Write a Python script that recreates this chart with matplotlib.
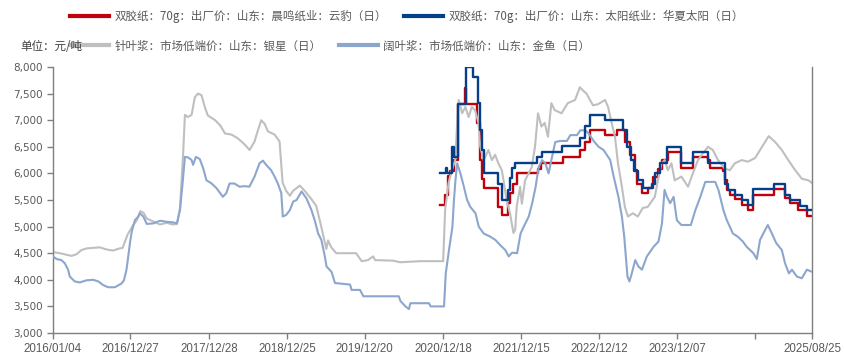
import matplotlib
matplotlib.use("Agg")
import matplotlib.pyplot as plt
from matplotlib.ticker import FuncFormatter
from matplotlib.lines import Line2D
import pandas as pd

plt.rcParams['font.family'] = ['Noto Sans CJK SC', 'DejaVu Sans']

# 针叶浆：市场低端价：山东：银星（日）
nb_dates = ['2016-01-04', '2016-02-05', '2016-03-07', '2016-03-30', '2016-04-22', '2016-05-15',
            '2016-06-08', '2016-07-08', '2016-08-08', '2016-09-08', '2016-10-08', '2016-11-08',
            '2016-11-22', '2016-12-01', '2016-12-15', '2017-01-10', '2017-01-27', '2017-02-12',
            '2017-02-27', '2017-03-14', '2017-04-12', '2017-05-14', '2017-06-14', '2017-07-13',
            '2017-08-01', '2017-08-15', '2017-08-22', '2017-08-30', '2017-09-07', '2017-09-20',
            '2017-10-08', '2017-10-23', '2017-11-06', '2017-11-23', '2017-12-08', '2017-12-22',
            '2018-01-25', '2018-02-18', '2018-03-12', '2018-04-11', '2018-05-10', '2018-06-12',
            '2018-07-04', '2018-07-27', '2018-08-10', '2018-08-27', '2018-09-12', '2018-09-27',
            '2018-10-28', '2018-11-20', '2018-12-04', '2018-12-21', '2019-01-07', '2019-01-21',
            '2019-02-22', '2019-03-17', '2019-04-16', '2019-05-09', '2019-06-02', '2019-06-25',
            '2019-07-03', '2019-07-18', '2019-08-10', '2019-11-10', '2019-12-06', '2020-01-04',
            '2020-01-28', '2020-02-06', '2020-04-29', '2020-06-01', '2020-09-02', '2020-12-18',
            '2020-12-27', '2021-01-12', '2021-01-27', '2021-02-12', '2021-02-20', '2021-02-28',
            '2021-03-16', '2021-03-31', '2021-04-15', '2021-04-30', '2021-05-16', '2021-05-31',
            '2021-06-08', '2021-06-24', '2021-07-16', '2021-08-01', '2021-08-16', '2021-08-31',
            '2021-09-16', '2021-09-24', '2021-10-08', '2021-10-24', '2021-11-09', '2021-11-17',
            '2021-11-24', '2021-12-10', '2021-12-18', '2022-01-02', '2022-02-02', '2022-02-17',
            '2022-03-03', '2022-03-19', '2022-04-03', '2022-04-18', '2022-05-04', '2022-05-19',
            '2022-06-20', '2022-07-19', '2022-08-22', '2022-09-13', '2022-09-27', '2022-10-14',
            '2022-10-30', '2022-11-13', '2022-12-06', '2023-01-08', '2023-01-22', '2023-02-08',
            '2023-02-23', '2023-03-09', '2023-03-27', '2023-04-10', '2023-04-24', '2023-05-17',
            '2023-06-09', '2023-07-02', '2023-07-25', '2023-08-27', '2023-09-10', '2023-09-27',
            '2023-10-12', '2023-10-26', '2023-11-12', '2023-11-27', '2023-12-28', '2024-01-28',
            '2024-02-19', '2024-03-14', '2024-04-06', '2024-04-30', '2024-05-22', '2024-06-15',
            '2024-07-16', '2024-08-09', '2024-09-01', '2024-10-03', '2024-11-01', '2024-12-04',
            '2025-01-05', '2025-02-05', '2025-03-07', '2025-04-07', '2025-05-07', '2025-06-08',
            '2025-07-09', '2025-08-08', '2025-08-25']
nb_values = [4520, 4500, 4470, 4450, 4480, 4560,
             4590, 4600, 4610, 4570, 4550, 4590,
             4600, 4700, 4850, 5030, 5120, 5290,
             5260, 5150, 5100, 5040, 5070, 5040,
             5050, 5340, 5840, 6400, 7100, 7060,
             7100, 7430, 7500, 7470, 7250, 7090,
             7000, 6900, 6750, 6730, 6660, 6540,
             6440, 6600, 6790, 7000, 6930, 6790,
             6730, 6600, 5830, 5670, 5580, 5670,
             5770, 5670, 5520, 5390, 4990, 4580,
             4740, 4610, 4500, 4500, 4350, 4370,
             4440, 4370, 4360, 4330, 4350, 4350,
             5310, 5820, 6060, 6250, 6880, 7380,
             7130, 7250, 7060, 7250, 7180, 6940,
             6500, 6250, 6440, 6250, 6350, 6190,
             6060, 5870, 5500, 5250, 4880, 4940,
             5370, 5750, 5430, 5870, 6120, 6500,
             7130, 6880, 6950, 6690, 7320, 7190,
             7130, 7320, 7380, 7620, 7560, 7500,
             7380, 7280, 7300, 7380, 7250, 6940,
             6690, 6190, 5750, 5370, 5190, 5250,
             5190, 5350, 5370, 5560, 5870, 6190,
             6250, 6060, 6190, 5870, 5940, 5750,
             6000, 6250, 6380, 6500, 6440, 6250,
             6090, 6060, 6190, 6250, 6220, 6290,
             6500, 6700, 6590, 6440, 6250, 6060,
             5900, 5870, 5820]

# 阔叶浆：市场低端价：山东：金鱼（日）
hw_dates = ['2016-01-04', '2016-01-21', '2016-02-12', '2016-02-28', '2016-03-14', '2016-03-22',
            '2016-04-14', '2016-05-07', '2016-06-07', '2016-07-08', '2016-08-01', '2016-08-24',
            '2016-09-16', '2016-10-17', '2016-10-26', '2016-11-17', '2016-11-28', '2016-12-10',
            '2016-12-18', '2016-12-26', '2017-01-03', '2017-01-18', '2017-02-03', '2017-02-10',
            '2017-02-26', '2017-03-14', '2017-04-13', '2017-05-15', '2017-06-14', '2017-07-14',
            '2017-08-01', '2017-08-15', '2017-08-27', '2017-09-07', '2017-09-22', '2017-10-08',
            '2017-10-15', '2017-10-28', '2017-11-15', '2017-12-01', '2017-12-16', '2018-01-09',
            '2018-02-01', '2018-03-02', '2018-03-18', '2018-04-02', '2018-04-25', '2018-05-18',
            '2018-06-10', '2018-07-03', '2018-07-27', '2018-08-19', '2018-09-04', '2018-09-19',
            '2018-10-12', '2018-10-28', '2018-11-12', '2018-11-28', '2018-12-05', '2018-12-21',
            '2019-01-07', '2019-01-22', '2019-02-07', '2019-03-02', '2019-03-25', '2019-04-17',
            '2019-05-02', '2019-05-18', '2019-06-02', '2019-06-18', '2019-06-26', '2019-07-19',
            '2019-08-04', '2019-10-13', '2019-10-20', '2019-11-28', '2019-12-14', '2020-05-26',
            '2020-06-03', '2020-06-26', '2020-07-12', '2020-07-19', '2020-10-13', '2020-10-21',
            '2020-12-22', '2020-12-30', '2021-01-14', '2021-01-30', '2021-02-06', '2021-02-13',
            '2021-02-21', '2021-03-08', '2021-03-24', '2021-04-08', '2021-04-23', '2021-05-17',
            '2021-06-01', '2021-06-24', '2021-07-25', '2021-08-17', '2021-09-09', '2021-10-02',
            '2021-10-18', '2021-11-03', '2021-11-26', '2021-12-12', '2021-12-27', '2022-01-19',
            '2022-02-04', '2022-02-20', '2022-03-06', '2022-03-22', '2022-04-06', '2022-04-21',
            '2022-05-07', '2022-05-22', '2022-06-14', '2022-07-15', '2022-07-31', '2022-08-31',
            '2022-09-15', '2022-10-09', '2022-10-24', '2022-11-16', '2022-12-09', '2023-01-01',
            '2023-02-01', '2023-02-17', '2023-03-11', '2023-03-27', '2023-04-07', '2023-04-16',
            '2023-04-22', '2023-05-01', '2023-05-12', '2023-05-28', '2023-06-12', '2023-06-28',
            '2023-07-21', '2023-08-21', '2023-09-13', '2023-09-29', '2023-10-11', '2023-10-22',
            '2023-11-06', '2023-11-22', '2023-12-07', '2023-12-28', '2024-01-20', '2024-02-10',
            '2024-03-02', '2024-03-25', '2024-04-17', '2024-05-10', '2024-06-02', '2024-06-17',
            '2024-07-10', '2024-07-26', '2024-08-23', '2024-09-15', '2024-10-08', '2024-10-26',
            '2024-11-26', '2024-12-12', '2024-12-27', '2025-01-11', '2025-02-01', '2025-02-20',
            '2025-03-12', '2025-04-07', '2025-04-22', '2025-05-10', '2025-05-24', '2025-06-16',
            '2025-07-09', '2025-08-01', '2025-08-25']
hw_values = [4440, 4390, 4370, 4310, 4190, 4060,
             3970, 3950, 3990, 4000, 3970, 3900,
             3860, 3860, 3880, 3930, 3990, 4190,
             4440, 4690, 4900, 5120, 5190, 5250,
             5190, 5050, 5060, 5110, 5090, 5080,
             5060, 5310, 5810, 6310, 6300, 6250,
             6160, 6310, 6270, 6090, 5870, 5810,
             5720, 5560, 5630, 5810, 5810, 5750,
             5760, 5750, 5940, 6190, 6240, 6160,
             6060, 5940, 5810, 5630, 5190, 5220,
             5310, 5470, 5500, 5660, 5530, 5310,
             5120, 4870, 4750, 4440, 4250, 4150,
             3940, 3910, 3810, 3810, 3690, 3690,
             3600, 3500, 3450, 3560, 3560, 3500,
             3500, 4120, 4560, 5000, 5500, 5870,
             6190, 6000, 5750, 5500, 5370, 5250,
             5000, 4870, 4810, 4750, 4650, 4560,
             4440, 4510, 4500, 4870, 5000, 5190,
             5440, 5750, 6120, 6250, 6190, 6000,
             6310, 6590, 6610, 6610, 6720, 6720,
             6810, 6810, 6750, 6610, 6500, 6440,
             6250, 5940, 5560, 5190, 4810, 4370,
             4060, 3970, 4120, 4370, 4250, 4190,
             4440, 4620, 4720, 5060, 5690, 5560,
             5440, 5560, 5120, 5030, 5030, 5030,
             5310, 5560, 5840, 5840, 5840, 5690,
             5310, 5120, 4870, 4810, 4720, 4620,
             4500, 4390, 4750, 4870, 5030, 4870,
             4690, 4560, 4310, 4120, 4190, 4060,
             4030, 4190, 4150]

# 双胶纸：70g：出厂价：山东：晨鸣纸业：云豹（日）  (price change dates)
cm_dates = ['2020-12-04', '2020-12-28', '2021-01-08', '2021-01-20', '2021-02-05', '2021-02-24',
            '2021-03-29', '2021-04-02', '2021-05-26', '2021-06-08', '2021-06-16', '2021-06-24',
            '2021-08-31', '2021-09-18', '2021-10-13', '2021-10-24', '2021-11-09', '2021-11-24',
            '2022-03-02', '2022-03-19', '2022-06-25', '2022-09-13', '2022-10-09', '2022-10-30',
            '2023-01-08', '2023-03-05', '2023-04-10', '2023-05-03', '2023-05-26', '2023-06-04',
            '2023-06-28', '2023-07-25', '2023-08-17', '2023-09-10', '2023-09-28', '2023-10-26',
            '2023-12-28', '2024-02-19', '2024-04-30', '2024-05-10', '2024-07-10', '2024-07-16',
            '2024-07-26', '2024-08-09', '2024-09-01', '2024-10-03', '2024-11-01', '2024-11-24',
            '2025-03-03', '2025-04-23', '2025-05-16', '2025-06-21', '2025-08-02', '2025-08-25']
cm_values = [5400, 5600, 5950, 6050, 6250, 7300,
             7600, 7300, 6950, 6250, 5900, 5720,
             5370, 5220, 5450, 5630, 5810, 6000,
             6090, 6200, 6310, 6440, 6590, 6810,
             6720, 6810, 6590, 6340, 6060, 5810,
             5630, 5720, 5940, 6090, 6250, 6410,
             6110, 6310, 6250, 6110, 6040, 5870,
             5690, 5600, 5510, 5400, 5310, 5600,
             5700, 5530, 5440, 5310, 5200, 5200]

# 双胶纸：70g：出厂价：山东：太阳纸业：华夏太阳（日）  (price change dates)
ty_dates = ['2020-12-04', '2020-12-31', '2021-01-05', '2021-01-27', '2021-02-05', '2021-02-24',
            '2021-04-02', '2021-05-04', '2021-05-28', '2021-06-08', '2021-06-15', '2021-06-24',
            '2021-08-28', '2021-09-18', '2021-10-13', '2021-10-24', '2021-11-02', '2021-11-16',
            '2022-02-24', '2022-03-20', '2022-06-22', '2022-09-13', '2022-10-09', '2022-10-30',
            '2023-01-08', '2023-03-31', '2023-04-18', '2023-05-07', '2023-05-21', '2023-06-09',
            '2023-07-02', '2023-08-13', '2023-08-27', '2023-09-19', '2023-10-22', '2023-12-28',
            '2024-02-19', '2024-04-30', '2024-07-16', '2024-07-31', '2024-09-01', '2024-10-03',
            '2024-11-01', '2024-11-24', '2025-03-03', '2025-04-23', '2025-05-16', '2025-07-02',
            '2025-08-02', '2025-08-25']
ty_values = [6000, 6100, 6000, 6500, 6310, 7300,
             8000, 7820, 7320, 6810, 6440, 6000,
             5800, 5500, 5690, 5910, 6100, 6190,
             6310, 6410, 6510, 6660, 6900, 7100,
             7000, 6810, 6500, 6250, 6050, 5870,
             5720, 5810, 6000, 6190, 6500, 6200,
             6410, 6200, 5810, 5690, 5600, 5500,
             5400, 5700, 5810, 5600, 5500, 5390,
             5310, 5310]

names = ['双胶纸：70g：出厂价：山东：晨鸣纸业：云豹（日）',
         '双胶纸：70g：出厂价：山东：太阳纸业：华夏太阳（日）',
         '针叶浆：市场低端价：山东：银星（日）',
         '阔叶浆：市场低端价：山东：金鱼（日）']
colors = ['#C0000B', '#063E8A', '#BFBFBF', '#8CA6CD']

tick_dates = ['2016-01-04', '2016-12-27', '2017-12-28', '2018-12-25', '2019-12-20',
              '2020-12-18', '2021-12-15', '2022-12-12', '2023-12-07', '2024-12-04', '2025-08-25']
tick_labels = ['2016/01/04', '2016/12/27', '2017/12/28', '2018/12/25', '2019/12/20',
               '2020/12/18', '2021/12/15', '2022/12/12', '2023/12/07', '', '2025/08/25']

fig = plt.figure(figsize=(8.44, 3.58), dpi=100)
ax = fig.add_axes([53/844, 1-333/358, (812-53)/844, (333-67)/358])

ax.plot(pd.to_datetime(cm_dates), cm_values, color=colors[0], lw=1.7, drawstyle='steps-post', zorder=2)
ax.plot(pd.to_datetime(ty_dates), ty_values, color=colors[1], lw=1.7, drawstyle='steps-post', zorder=3)
ax.plot(pd.to_datetime(nb_dates), nb_values, color=colors[2], lw=1.5, zorder=2.5)
ax.plot(pd.to_datetime(hw_dates), hw_values, color=colors[3], lw=1.5, zorder=2.6)

ax.set_xlim(pd.Timestamp('2016-01-04'), pd.Timestamp('2025-08-25'))
ax.set_ylim(3000, 8000)
ax.set_yticks(range(3000, 8001, 500))
ax.yaxis.set_major_formatter(FuncFormatter(lambda v, p: f'{int(v):,}'))
ax.set_xticks(pd.to_datetime(tick_dates))
ax.set_xticklabels(tick_labels)

ax.spines['top'].set_visible(False)
for s in ['left', 'bottom', 'right']:
    ax.spines[s].set_color('#7F7F7F')
    ax.spines[s].set_linewidth(1.0)
ax.tick_params(axis='both', colors='#7F7F7F', length=4, width=1.0, labelcolor='#595959')
ax.tick_params(axis='x', pad=3)
for lab in ax.get_yticklabels():
    lab.set_family(['DejaVu Sans'])
    lab.set_fontsize(7.5)
for lab in ax.get_xticklabels():
    lab.set_family(['Liberation Sans', 'DejaVu Sans'])
    lab.set_fontsize(8.3)

# legend rows
h = [Line2D([], [], color=c, lw=3) for c in colors]
leg_kw = dict(frameon=False, ncol=2, loc='center left', borderaxespad=0, borderpad=0,
              handlelength=3.4, handletextpad=0.45, columnspacing=1.5,
              prop={'family': ['Noto Sans CJK SC', 'DejaVu Sans'], 'size': 8.3},
              labelcolor='#595959')
fig.legend(h[:2], names[:2], bbox_to_anchor=(70/844, 1-16/358), **leg_kw)
fig.legend(h[2:], names[2:], bbox_to_anchor=(70/844, 1-46/358), **leg_kw)
fig.text(20/844, 1-46/358, '单位：元/吨', fontsize=8.3, color='#404040', va='center', ha='left', zorder=10)

fig.savefig('out.png', dpi=100)
